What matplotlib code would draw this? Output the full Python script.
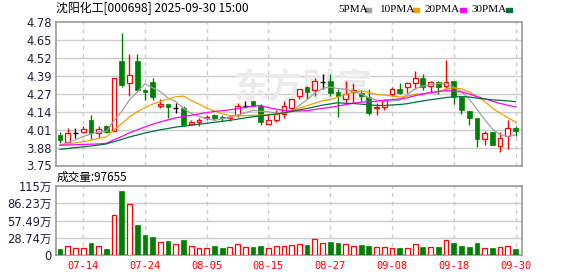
import numpy as np
import pandas as pd
import matplotlib
matplotlib.use("Agg")
from matplotlib import pyplot as plt
from matplotlib.patches import Rectangle

# trading days shown (2025)
dates = ["07-09", "07-10", "07-11", "07-14", "07-15", "07-16", "07-17", "07-18",
         "07-21", "07-22", "07-23", "07-24", "07-25", "07-28", "07-29", "07-30",
         "07-31", "08-01", "08-04", "08-05", "08-06", "08-07", "08-08", "08-11",
         "08-12", "08-13", "08-14", "08-15", "08-18", "08-19", "08-20", "08-21",
         "08-22", "08-25", "08-26", "08-27", "08-28", "08-29", "09-01", "09-02",
         "09-03", "09-04", "09-05", "09-08", "09-09", "09-10", "09-11", "09-12",
         "09-15", "09-16", "09-17", "09-18", "09-19", "09-22", "09-23", "09-24",
         "09-25", "09-26", "09-29", "09-30"]

open_ = [3.97, 3.92, 3.98, 3.99, 4.08, 3.98, 4.03, 4.00, 4.50, 4.34,
         4.50, 4.29, 4.35, 4.18, 4.19, 4.16, 4.16, 4.05, 4.06, 4.09,
         4.11, 4.10, 4.09, 4.11, 4.18, 4.21, 4.18, 4.05, 4.08, 4.12,
         4.16, 4.25, 4.31, 4.29, 4.35, 4.36, 4.28, 4.23, 4.28, 4.27,
         4.24, 4.16, 4.17, 4.26, 4.30, 4.31, 4.34, 4.38, 4.32, 4.35,
         4.32, 4.36, 4.24, 4.14, 4.09, 3.94, 3.99, 3.89, 3.96, 4.02]
high = [3.99, 4.02, 4.02, 4.03, 4.11, 4.03, 4.04, 4.38, 4.70, 4.55,
        4.55, 4.30, 4.38, 4.23, 4.19, 4.20, 4.18, 4.08, 4.09, 4.11,
        4.12, 4.11, 4.11, 4.20, 4.21, 4.21, 4.19, 4.12, 4.15, 4.21,
        4.23, 4.30, 4.32, 4.38, 4.41, 4.41, 4.30, 4.36, 4.34, 4.29,
        4.30, 4.20, 4.23, 4.31, 4.34, 4.35, 4.43, 4.41, 4.36, 4.36,
        4.51, 4.36, 4.24, 4.14, 4.09, 4.00, 3.99, 3.99, 4.08, 4.03]
low = [3.91, 3.91, 3.95, 3.98, 3.94, 3.95, 3.98, 4.00, 4.31, 4.25,
       4.28, 4.22, 4.22, 4.16, 4.09, 4.13, 4.03, 4.04, 4.03, 4.08,
       4.08, 4.07, 4.07, 4.10, 4.16, 4.17, 4.04, 4.05, 4.06, 4.09,
       4.14, 4.23, 4.23, 4.25, 4.30, 4.25, 4.10, 4.20, 4.20, 4.21,
       4.11, 4.11, 4.15, 4.25, 4.26, 4.27, 4.30, 4.29, 4.27, 4.26,
       4.29, 4.19, 4.12, 4.04, 3.88, 3.90, 3.90, 3.85, 3.87, 3.96]
close = [3.93, 3.98, 3.98, 4.01, 3.98, 4.01, 3.99, 4.38, 4.33, 4.40,
         4.29, 4.28, 4.24, 4.19, 4.17, 4.16, 4.04, 4.06, 4.08, 4.10,
         4.09, 4.09, 4.10, 4.18, 4.18, 4.18, 4.06, 4.08, 4.12, 4.18,
         4.23, 4.30, 4.28, 4.36, 4.35, 4.27, 4.25, 4.26, 4.29, 4.25,
         4.13, 4.17, 4.22, 4.30, 4.27, 4.34, 4.38, 4.31, 4.35, 4.31,
         4.35, 4.24, 4.15, 4.09, 3.94, 3.98, 3.90, 3.95, 4.02, 4.00]
# volume in 万
volume = [10.0, 15.0, 11.1, 11.7, 20.0, 15.0, 10.0, 66.7, 106.7, 85.0,
          50.0, 33.3, 30.0, 21.7, 23.3, 18.3, 25.0, 15.0, 11.7, 11.7,
          14.4, 11.7, 13.3, 18.3, 13.3, 13.3, 15.0, 11.7, 15.0, 15.0,
          16.7, 18.3, 16.7, 26.1, 20.0, 22.2, 20.0, 18.3, 15.0, 16.7,
          15.0, 13.3, 13.3, 11.7, 11.7, 11.7, 18.3, 13.3, 13.3, 13.3,
          25.0, 20.0, 15.0, 13.3, 20.0, 11.7, 11.7, 13.3, 15.0, 9.77]

# MA values before a full window is visible
ma5_lead = [3.895, 3.914, 3.934, 3.958]
ma10_lead = [3.897, 3.905, 3.913, 3.921, 3.932, 3.944, 3.955, 4.005, 4.05]
ma20_lead = [3.895, 3.897, 3.899, 3.901, 3.903, 3.905, 3.909, 3.935, 3.958, 3.985,
             4.006, 4.027, 4.046, 4.063, 4.078, 4.092, 4.101, 4.110, 4.120]
ma30_lead = [3.866, 3.872, 3.878, 3.884, 3.890, 3.897, 3.905, 3.922, 3.937, 3.955,
             3.969, 3.983, 3.995, 4.006, 4.016, 4.026, 4.032, 4.039, 4.046, 4.053,
             4.060, 4.067, 4.074, 4.083, 4.092, 4.100, 4.106, 4.113, 4.120]

price_ticks = ["3.75", "3.88", "4.01", "4.14", "4.27", "4.39", "4.52", "4.65", "4.78"]
vol_ticks = ["0", "28.74万", "57.49万", "86.23万", "115万"]
date_ticks = [3, 11, 19, 27, 35, 43, 51, 59]

RED = "#ff0000"
GREEN = "#008000"
GRID = "#cccccc"
FRAME = "#999999"
LBL = "#1e1e3c"
W = 578
H = 276


def moving_average(n, lead):
    ma = pd.Series(close).rolling(n).mean().to_numpy()
    ma[:n - 1] = lead
    return ma


def style_axis(ax):
    for s in ax.spines.values():
        s.set_color(FRAME)
        s.set_linewidth(1.2)
    ax.tick_params(length=0, pad=3, labelsize=8.3, colors=LBL)
    ax.set_xlim(-0.52, 59.84)
    for i in date_ticks:
        ax.axvline(i, color=GRID, lw=1, ls=(0, (3, 3)), zorder=0)


o = np.array(open_)
c = np.array(close)
x = np.arange(len(c))
up = c > o
dn = c < o
flat = c == o

fig = plt.figure(figsize=(W / 100, H / 100), dpi=100)
ax = fig.add_axes([56 / W, 1 - 165.5 / H, 466 / W, 143.5 / H])
axv = fig.add_axes([56 / W, 1 - 255 / H, 466 / W, 69 / H])

# --- price panel ---
style_axis(ax)
yt = np.linspace(3.75, 4.78, 9)
ax.set_ylim(3.75, 4.78)
ax.set_yticks(yt, price_ticks)
for v in yt[1:-1]:
    ax.axhline(v, color=GRID, lw=1, zorder=0)
ax.set_xticks([])

# faint watermark
ax.text(303 / W, 1 - 87 / H, "东方财富", transform=fig.transFigure, fontsize=25,
        color="#ebebeb", family="Noto Sans CJK SC", fontweight="bold",
        ha="center", va="center", zorder=0.5)

cols = np.where(up, RED, np.where(dn, GREEN, "black"))
ax.vlines(x, low, high, colors=cols, lw=1, zorder=2)
bw = 0.62
body_h = np.maximum(np.abs(c - o), 0.003)
ax.bar(x[up], body_h[up], bottom=o[up], width=bw, facecolor="white",
       edgecolor=RED, lw=0.9, zorder=3)
ax.bar(x[dn], body_h[dn], bottom=c[dn], width=bw, color=GREEN,
       edgecolor=GREEN, lw=0.5, zorder=3)
ax.hlines(c[flat], x[flat] - bw / 2, x[flat] + bw / 2, colors="black", lw=1, zorder=3)

ma_cols = ["#a0a0a0", "#f0a000", "#ff00ff", "#00703c"]
for n, lead, col in zip([5, 10, 20, 30], [ma5_lead, ma10_lead, ma20_lead, ma30_lead], ma_cols):
    ax.plot(x, moving_average(n, lead), color=col, lw=0.9, zorder=4)

# --- volume panel ---
style_axis(axv)
vt = np.linspace(0, 115, 5)
axv.set_ylim(0, 115)
axv.set_yticks(vt, vol_ticks, family=["DejaVu Sans", "Noto Sans CJK SC"])
for v in vt[1:-1]:
    axv.axhline(v, color=GRID, lw=1, zorder=0)
vol = np.array(volume)
vup = c >= o
axv.bar(x[vup], vol[vup], width=bw, facecolor="white", edgecolor=RED, lw=0.9, zorder=3)
axv.bar(x[~vup], vol[~vup], width=bw, color=GREEN, edgecolor=GREEN, lw=0.5, zorder=3)
axv.set_xticks(date_ticks, [dates[i] for i in date_ticks], family="DejaVu Sans Mono",
               fontsize=7.5, color=RED)
axv.tick_params(axis="x", pad=4, colors=RED)

# --- header texts ---
fig.text(56 / W, 1 - 8.5 / H, "沈阳化工[000698] 2025-09-30 15:00", fontsize=8.6,
         family=["Noto Sans CJK SC", "DejaVu Sans"], va="center", ha="left")
fig.text(57 / W, 1 - 177 / H, "成交量:97655", fontsize=8.4,
         family=["Noto Sans CJK SC", "DejaVu Sans"], va="center", ha="left")

legend = [("5PMA", 338, 365), ("10PMA", 380, 413), ("20PMA", 425, 460), ("30PMA", 472, 506)]
for (name, tx, sx), col in zip(legend, ma_cols):
    fig.text(tx / W, 1 - 9 / H, name, fontsize=8, family="Liberation Serif",
             va="center", ha="left")
    fig.add_artist(Rectangle((sx / W, 1 - 11.5 / H), 6 / W, 3.5 / H, color=col,
                             transform=fig.transFigure))

fig.savefig("out.png", dpi=100)
